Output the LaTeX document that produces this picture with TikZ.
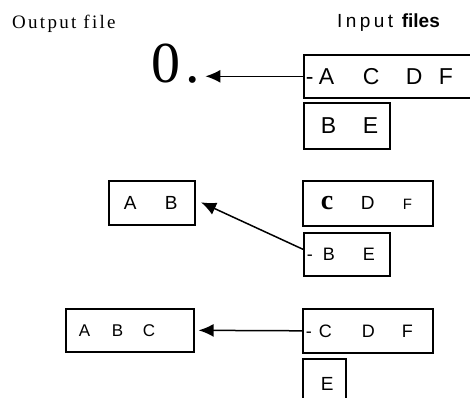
\documentclass[tikz,border=0pt]{standalone}
\usepackage{fontspec}
\setmainfont{Liberation Serif}
\setsansfont{Liberation Sans}
\newfontfamily\spacedserif[LetterSpace=12]{Liberation Serif}
\newfontfamily\spacedsans[LetterSpace=18]{Liberation Sans}
\usetikzlibrary{arrows.meta}
\tikzset{filebox/.style={draw, line width=1.6pt, anchor=north west, inner xsep=0pt, inner ysep=0pt, align=left}}
\tikzset{merge/.style={-{Latex[length=15pt,width=13pt]}, line width=1.5pt}}
\newcommand{\slot}[2]{\makebox[#1][l]{#2}}
\newcommand{\pts}[1]{\fontsize{#1}{#1}\selectfont}

\begin{document}
\begin{tikzpicture}[x=1pt, y=-1pt]
\useasboundingbox (0,0) rectangle (470,397);
% headings
\node[anchor=base west, inner sep=0, font=\spacedserif\pts{19}] (outhead) at (12,28) {Output file};
\node[anchor=base west, inner sep=0, font=\sffamily\pts{19}] (inhead) at (337,27) {{\spacedsans Input} \textbf{files}};

% first pass
\node[anchor=base west, inner sep=0, font=\rmfamily\pts{58}] (zero) at (151.5,82) {0\kern5pt.};
\node[filebox, text width=260pt, minimum height=43pt, font=\sffamily\pts{23}] (acdf) at (303,54) {\hspace*{2pt}\slot{13pt}{-}\slot{44pt}{A}\slot{43pt}{C}\slot{33pt}{D}F};
\node[filebox, text width=86pt, minimum height=46pt, font=\sffamily\pts{23}] (be1) at (303,102) {\hspace*{17pt}\slot{42pt}{B}E};
\draw[merge] (acdf.west) -- ([xshift=5pt]acdf.west -| zero.east);

% second pass
\node[filebox, text width=86pt, minimum height=44pt, font=\sffamily\pts{19}] (ab) at (108,180) {\hspace*{15pt}\slot{41pt}{A}B};
\node[filebox, text width=130pt, minimum height=45pt, font=\sffamily\pts{19}] (cdf2) at (302,180) {\hspace*{18pt}\slot{40pt}{\rmfamily\bfseries\pts{28}c}\slot{42pt}{D}{\pts{15}F}};
\node[filebox, text width=86pt, minimum height=43pt, font=\sffamily\pts{18}] (be2) at (303,232) {\hspace*{3pt}\slot{16pt}{-}\slot{40pt}{B}E};
\draw[merge, shorten >=6pt] ([yshift=5pt]be2.west) -- ([yshift=3pt]ab.east);

% third pass
\node[filebox, text width=128pt, minimum height=43pt, font=\sffamily\pts{17}] (abc) at (65,308) {\hspace*{13pt}\slot{33pt}{A}\slot{31pt}{B}C};
\node[filebox, text width=130pt, minimum height=44pt, font=\sffamily\pts{18}] (cdf3) at (302,308) {\hspace*{3pt}\slot{13pt}{-}\slot{43pt}{C}\slot{40pt}{D}F};
\node[filebox, text width=43pt, minimum height=50pt, font=\sffamily\pts{19}] (e3) at (302,358) {\hspace*{18pt}E};
\draw[merge, shorten >=4pt] (cdf3.west) -- (abc.east);
\end{tikzpicture}
\end{document}
